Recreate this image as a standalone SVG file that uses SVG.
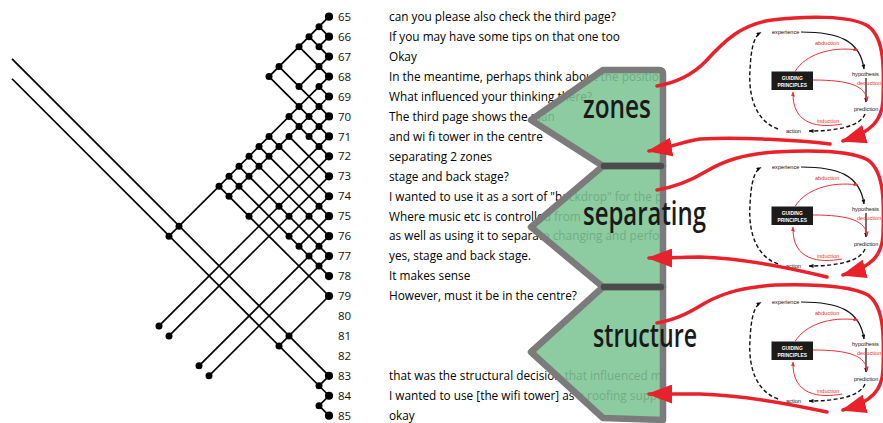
<svg xmlns="http://www.w3.org/2000/svg" width="883" height="423" viewBox="0 0 883 423">
<defs>
<style>
.ln{stroke:#000;stroke-width:1.7;fill:none}
.ld{fill:#000}
.num{font-family:"Open Sans",sans-serif;font-size:11.5px;fill:#111}
.utt{font-family:"Open Sans",sans-serif;font-size:11.8px;fill:#000}
.shape{fill:#7dc494;fill-opacity:0.88;stroke:#7b7b7b;stroke-width:6.5;stroke-linejoin:round}
.bar{stroke:#4c4c4c;stroke-width:6.5;stroke-linecap:round}
.big{font-family:"Open Sans",sans-serif;font-size:32px;font-weight:600;fill:#1a1a1a}
.red{stroke:#e8212b;stroke-width:3.5;fill:none;stroke-linecap:round}
.tiny{font-family:"Liberation Sans",sans-serif;font-size:5.6px;fill:#111}
.tinyr{font-family:"Liberation Sans",sans-serif;font-size:5.6px;fill:#e8313a}
.gp{font-family:"Liberation Sans",sans-serif;font-size:4.9px;font-weight:bold;fill:#fff}
.bk{stroke:#111;stroke-width:1.2;fill:none}
.dash{stroke:#111;stroke-width:1.4;fill:none;stroke-dasharray:4 2.5}
.rd{stroke:#e8313a;stroke-width:1;fill:none}
</style>
<clipPath id="tclip" clipPathUnits="userSpaceOnUse"><rect x="0" y="0" width="663" height="423"/></clipPath>
<marker id="bigarrow" markerUnits="userSpaceOnUse" markerWidth="25" markerHeight="19" viewBox="0 0 25 19" refX="23" refY="9.5" orient="auto"><path d="M0,0 L25,9.5 L0,19 z" fill="#e8212b"/></marker>
<marker id="sb" markerUnits="userSpaceOnUse" markerWidth="5" markerHeight="4" viewBox="0 0 5 4" refX="4.5" refY="2" orient="auto"><path d="M0,0 L5,2 L0,4 z" fill="#111"/></marker>
<marker id="sr" markerUnits="userSpaceOnUse" markerWidth="5" markerHeight="4" viewBox="0 0 5 4" refX="4.5" refY="2" orient="auto"><path d="M0,0 L5,2 L0,4 z" fill="#e8313a"/></marker>
</defs>
<rect x="0" y="0" width="883" height="423" fill="#fff"/>

<g id="connectors">
<g class="ln">
<line x1="329" y1="16.7" x2="269" y2="76.55"/>
<line x1="329" y1="36.65" x2="319" y2="46.625"/>
<line x1="329" y1="56.6" x2="299" y2="86.525"/>
<line x1="329" y1="76.55" x2="169" y2="236.15"/>
<line x1="329" y1="96.5" x2="229" y2="196.25"/>
<line x1="329" y1="116.45" x2="309" y2="136.4"/>
<line x1="329" y1="136.4" x2="249" y2="216.2"/>
<line x1="329" y1="156.35" x2="159" y2="325.925"/>
<line x1="329" y1="176.3" x2="169" y2="335.9"/>
<line x1="329" y1="196.25" x2="289" y2="236.15"/>
<line x1="329" y1="216.2" x2="299" y2="246.125"/>
<line x1="329" y1="236.15" x2="199" y2="365.825"/>
<line x1="329" y1="256.1" x2="209" y2="375.8"/>
<line x1="329" y1="296" x2="279" y2="345.875"/>
<line x1="329" y1="375.8" x2="319" y2="385.775"/>
<line x1="329" y1="395.75" x2="319" y2="405.725"/>
<line x1="329" y1="36.65" x2="319" y2="26.675"/>
<line x1="329" y1="56.6" x2="309" y2="36.65"/>
<line x1="329" y1="76.55" x2="299" y2="46.625"/>
<line x1="329" y1="96.5" x2="319" y2="86.525"/>
<line x1="329" y1="116.45" x2="279" y2="66.575"/>
<line x1="329" y1="136.4" x2="269" y2="76.55"/>
<line x1="329" y1="156.35" x2="289" y2="116.45"/>
<line x1="329" y1="176.3" x2="289" y2="136.4"/>
<line x1="329" y1="196.25" x2="269" y2="136.4"/>
<line x1="329" y1="216.2" x2="259" y2="146.375"/>
<line x1="329" y1="236.15" x2="249" y2="156.35"/>
<line x1="329" y1="256.1" x2="239" y2="166.325"/>
<line x1="329" y1="276.05" x2="229" y2="176.3"/>
<line x1="329" y1="296" x2="219" y2="186.275"/>
<line x1="329" y1="375.8" x2="12" y2="58.8"/>
<line x1="329" y1="395.75" x2="12" y2="78.75"/>
<line x1="329" y1="415.7" x2="319" y2="405.725"/>
</g>
<g class="ld">
<circle cx="319" cy="26.675" r="3.5"/><circle cx="309" cy="36.65" r="3.5"/><circle cx="299" cy="46.625" r="3.5"/><circle cx="279" cy="66.575" r="3.5"/><circle cx="269" cy="76.55" r="3.5"/>
<circle cx="319" cy="46.625" r="3.5"/>
<circle cx="319" cy="66.575" r="3.5"/><circle cx="299" cy="86.525" r="3.5"/>
<circle cx="319" cy="86.525" r="3.5"/><circle cx="299" cy="106.475" r="3.5"/><circle cx="289" cy="116.45" r="3.5"/><circle cx="269" cy="136.4" r="3.5"/><circle cx="259" cy="146.375" r="3.5"/><circle cx="249" cy="156.35" r="3.5"/><circle cx="239" cy="166.325" r="3.5"/><circle cx="229" cy="176.3" r="3.5"/><circle cx="219" cy="186.275" r="3.5"/><circle cx="179" cy="226.175" r="3.5"/><circle cx="169" cy="236.15" r="3.5"/>
<circle cx="319" cy="106.475" r="3.5"/><circle cx="309" cy="116.45" r="3.5"/><circle cx="299" cy="126.425" r="3.5"/><circle cx="289" cy="136.4" r="3.5"/><circle cx="279" cy="146.375" r="3.5"/><circle cx="269" cy="156.35" r="3.5"/><circle cx="259" cy="166.325" r="3.5"/><circle cx="249" cy="176.3" r="3.5"/><circle cx="239" cy="186.275" r="3.5"/><circle cx="229" cy="196.25" r="3.5"/>
<circle cx="319" cy="126.425" r="3.5"/><circle cx="309" cy="136.4" r="3.5"/>
<circle cx="319" cy="146.375" r="3.5"/><circle cx="249" cy="216.2" r="3.5"/>
<circle cx="279" cy="206.225" r="3.5"/><circle cx="159" cy="325.925" r="3.5"/>
<circle cx="289" cy="216.2" r="3.5"/><circle cx="169" cy="335.9" r="3.5"/>
<circle cx="319" cy="206.225" r="3.5"/><circle cx="309" cy="216.2" r="3.5"/><circle cx="289" cy="236.15" r="3.5"/>
<circle cx="299" cy="246.125" r="3.5"/>
<circle cx="319" cy="246.125" r="3.5"/><circle cx="309" cy="256.1" r="3.5"/><circle cx="199" cy="365.825" r="3.5"/>
<circle cx="319" cy="266.075" r="3.5"/><circle cx="209" cy="375.8" r="3.5"/>
<circle cx="289" cy="335.9" r="3.5"/><circle cx="279" cy="345.875" r="3.5"/>
<circle cx="319" cy="385.775" r="3.5"/><circle cx="319" cy="405.725" r="3.5"/>
</g>
</g>

<g id="move-65"><circle cx="329" cy="16.7" r="4.1"/><text class="num" x="338" y="20.8">65</text><text class="utt" x="389" y="21" clip-path="url(#tclip)">can you please also check the third page?</text></g>
<g id="move-66"><circle cx="329" cy="36.65" r="4.1"/><text class="num" x="338" y="40.75">66</text><text class="utt" x="389" y="40.95" clip-path="url(#tclip)">If you may have some tips on that one too</text></g>
<g id="move-67"><circle cx="329" cy="56.6" r="4.1"/><text class="num" x="338" y="60.7">67</text><text class="utt" x="389" y="60.9" clip-path="url(#tclip)">Okay</text></g>
<g id="move-68"><circle cx="329" cy="76.55" r="4.1"/><text class="num" x="338" y="80.65">68</text><text class="utt" x="389" y="80.85" clip-path="url(#tclip)">In the meantime, perhaps think about the position o</text></g>
<g id="move-69"><circle cx="329" cy="96.5" r="4.1"/><text class="num" x="338" y="100.6">69</text><text class="utt" x="389" y="100.8" clip-path="url(#tclip)">What influenced your thinking there?</text></g>
<g id="move-70"><circle cx="329" cy="116.45" r="4.1"/><text class="num" x="338" y="120.55">70</text><text class="utt" x="389" y="120.75" clip-path="url(#tclip)">The third page shows the plan</text></g>
<g id="move-71"><circle cx="329" cy="136.4" r="4.1"/><text class="num" x="338" y="140.5">71</text><text class="utt" x="389" y="140.7" clip-path="url(#tclip)">and wi fi tower in the centre</text></g>
<g id="move-72"><circle cx="329" cy="156.35" r="4.1"/><text class="num" x="338" y="160.45">72</text><text class="utt" x="389" y="160.65" clip-path="url(#tclip)">separating 2 zones</text></g>
<g id="move-73"><circle cx="329" cy="176.3" r="4.1"/><text class="num" x="338" y="180.4">73</text><text class="utt" x="389" y="180.6" clip-path="url(#tclip)">stage and back stage?</text></g>
<g id="move-74"><circle cx="329" cy="196.25" r="4.1"/><text class="num" x="338" y="200.35">74</text><text class="utt" x="389" y="200.55" clip-path="url(#tclip)">I wanted to use it as a sort of "backdrop" for the per</text></g>
<g id="move-75"><circle cx="329" cy="216.2" r="4.1"/><text class="num" x="338" y="220.3">75</text><text class="utt" x="389" y="220.5" clip-path="url(#tclip)">Where music etc is controlled from</text></g>
<g id="move-76"><circle cx="329" cy="236.15" r="4.1"/><text class="num" x="338" y="240.25">76</text><text class="utt" x="389" y="240.45" clip-path="url(#tclip)">as well as using it to separate changing and perform</text></g>
<g id="move-77"><circle cx="329" cy="256.1" r="4.1"/><text class="num" x="338" y="260.2">77</text><text class="utt" x="389" y="260.4" clip-path="url(#tclip)">yes, stage and back stage.</text></g>
<g id="move-78"><circle cx="329" cy="276.05" r="4.1"/><text class="num" x="338" y="280.15">78</text><text class="utt" x="389" y="280.35" clip-path="url(#tclip)">It makes sense</text></g>
<g id="move-79"><circle cx="329" cy="296" r="4.1"/><text class="num" x="338" y="300.1">79</text><text class="utt" x="389" y="300.3" clip-path="url(#tclip)">However, must it be in the centre?</text></g>
<g id="move-80"><text class="num" x="338" y="320.05">80</text></g>
<g id="move-81"><text class="num" x="338" y="340">81</text></g>
<g id="move-82"><text class="num" x="338" y="359.95">82</text></g>
<g id="move-83"><circle cx="329" cy="375.8" r="4.1"/><text class="num" x="338" y="379.9">83</text><text class="utt" x="389" y="380.1" clip-path="url(#tclip)">that was the structural decision that influenced me t</text></g>
<g id="move-84"><circle cx="329" cy="395.75" r="4.1"/><text class="num" x="338" y="399.85">84</text><text class="utt" x="389" y="400.05" clip-path="url(#tclip)">I wanted to use [the wifi tower] as a roofing support</text></g>
<g id="move-85"><circle cx="329" cy="415.7" r="4.1"/><text class="num" x="338" y="419.8">85</text><text class="utt" x="389" y="420" clip-path="url(#tclip)">okay</text></g>

<g id="cycle-1">
<path class="dash" d="M778,129 C758,122 748,100 750,70 C751,48 754,36 761,32.5" marker-end="url(#sb)"/>
<text class="tiny" x="772" y="34">experience</text>
<path class="bk" d="M801,32 C838,32 860,40 864,69" marker-end="url(#sb)"/>
<text class="tiny" x="852" y="75.5">hypothesis</text>
<path class="bk" d="M866,78 L866,102" marker-end="url(#sb)"/>
<text class="tiny" x="854" y="111">prediction</text>
<path class="dash" d="M865,114 C860,127 835,131 809,131" marker-end="url(#sb)"/>
<text class="tiny" x="786" y="133">action</text>
<rect x="771.5" y="71.5" width="41.5" height="18.5" fill="#1b1b1b"/>
<text class="gp" x="792.25" y="79.6" text-anchor="middle">GUIDING</text>
<text class="gp" x="792.25" y="86.6" text-anchor="middle">PRINCIPLES</text>
<path class="rd" d="M795,71.5 C805,55 830,46 858,50" marker-end="url(#sr)"/>
<text class="tinyr" x="815" y="45">abduction</text>
<path class="rd" d="M813,80 C850,80 866,86 867,101" marker-end="url(#sr)"/>
<text class="tinyr" x="857" y="85">deduction</text>
<path class="rd" d="M842,124 C820,128 792,126 793,92" marker-end="url(#sr)"/>
<text class="tinyr" x="817" y="122.5">induction</text>
</g>
<g id="cycle-2">
<path class="dash" d="M778,264 C758,257 748,235 750,205 C751,183 754,171 761,167.5" marker-end="url(#sb)"/>
<text class="tiny" x="772" y="169">experience</text>
<path class="bk" d="M801,167 C838,167 860,175 864,204" marker-end="url(#sb)"/>
<text class="tiny" x="852" y="210.5">hypothesis</text>
<path class="bk" d="M866,213 L866,237" marker-end="url(#sb)"/>
<text class="tiny" x="854" y="246">prediction</text>
<path class="dash" d="M865,249 C860,262 835,266 809,266" marker-end="url(#sb)"/>
<text class="tiny" x="786" y="268">action</text>
<rect x="771.5" y="206.5" width="41.5" height="18.5" fill="#1b1b1b"/>
<text class="gp" x="792.25" y="214.6" text-anchor="middle">GUIDING</text>
<text class="gp" x="792.25" y="221.6" text-anchor="middle">PRINCIPLES</text>
<path class="rd" d="M795,206.5 C805,190 830,181 858,185" marker-end="url(#sr)"/>
<text class="tinyr" x="815" y="180">abduction</text>
<path class="rd" d="M813,215 C850,215 866,221 867,236" marker-end="url(#sr)"/>
<text class="tinyr" x="857" y="220">deduction</text>
<path class="rd" d="M842,259 C820,263 792,261 793,227" marker-end="url(#sr)"/>
<text class="tinyr" x="817" y="257.5">induction</text>
</g>
<g id="cycle-3">
<path class="dash" d="M778,399 C758,392 748,370 750,340 C751,318 754,306 761,302.5" marker-end="url(#sb)"/>
<text class="tiny" x="772" y="304">experience</text>
<path class="bk" d="M801,302 C838,302 860,310 864,339" marker-end="url(#sb)"/>
<text class="tiny" x="852" y="345.5">hypothesis</text>
<path class="bk" d="M866,348 L866,372" marker-end="url(#sb)"/>
<text class="tiny" x="854" y="381">prediction</text>
<path class="dash" d="M865,384 C860,397 835,401 809,401" marker-end="url(#sb)"/>
<text class="tiny" x="786" y="403">action</text>
<rect x="771.5" y="341.5" width="41.5" height="18.5" fill="#1b1b1b"/>
<text class="gp" x="792.25" y="349.6" text-anchor="middle">GUIDING</text>
<text class="gp" x="792.25" y="356.6" text-anchor="middle">PRINCIPLES</text>
<path class="rd" d="M795,341.5 C805,325 830,316 858,320" marker-end="url(#sr)"/>
<text class="tinyr" x="815" y="315">abduction</text>
<path class="rd" d="M813,350 C850,350 866,356 867,371" marker-end="url(#sr)"/>
<text class="tinyr" x="857" y="355">deduction</text>
<path class="rd" d="M842,394 C820,398 792,396 793,362" marker-end="url(#sr)"/>
<text class="tinyr" x="817" y="392.5">induction</text>
</g>

<g id="shape-zones"><path class="shape" d="M603,70 L659,70 Q663,70 663,74 L663,166 L603,166 L531,120 Z"/></g>
<g id="shape-separating"><path class="shape" d="M603,166 L663,166 L663,287 L603,287 L531,227 Z"/></g>
<g id="shape-structure"><path class="shape" d="M603,287 L663,287 L663,420 L603,418 L531,352 Z"/></g>
<line class="bar" x1="604" y1="166" x2="661" y2="166"/>
<line class="bar" x1="604" y1="287" x2="661" y2="287"/>

<g id="red-arrows">
<path class="red" d="M657,86 C680,82 695,72 705,62 C725,40 742,24 772,20 C805,16 850,15 868,26 C885,38 884,70 883,100 C882,120 872,132 843,141" marker-end="url(#bigarrow)"/>
<path class="red" d="M830,144 C800,140 740,137 700,139 C685,141 672,147 649,151" marker-end="url(#bigarrow)"/>
<path class="red" d="M657,190 C680,186 695,178 705,172 C725,160 745,154 775,152 C810,150 850,150 868,160 C885,172 884,205 883,235 C882,255 872,267 843,275" marker-end="url(#bigarrow)"/>
<path class="red" d="M827,277 C790,268 740,258 700,257 C685,257 672,258 649,258" marker-end="url(#bigarrow)"/>
<path class="red" d="M657,323 C680,319 695,309 705,303 C725,292 745,287 775,285 C810,284 850,285 868,295 C885,307 884,340 883,370 C882,390 872,402 843,410" marker-end="url(#bigarrow)"/>
<path class="red" d="M827,412 C790,404 740,395 700,394 C685,394 672,394 649,394" marker-end="url(#bigarrow)"/>
</g>

<text class="big" x="583" y="118" textLength="68" lengthAdjust="spacingAndGlyphs">zones</text>
<text class="big" x="583" y="225" textLength="123" lengthAdjust="spacingAndGlyphs">separating</text>
<text class="big" x="593" y="347" textLength="104" lengthAdjust="spacingAndGlyphs">structure</text>
</svg>
